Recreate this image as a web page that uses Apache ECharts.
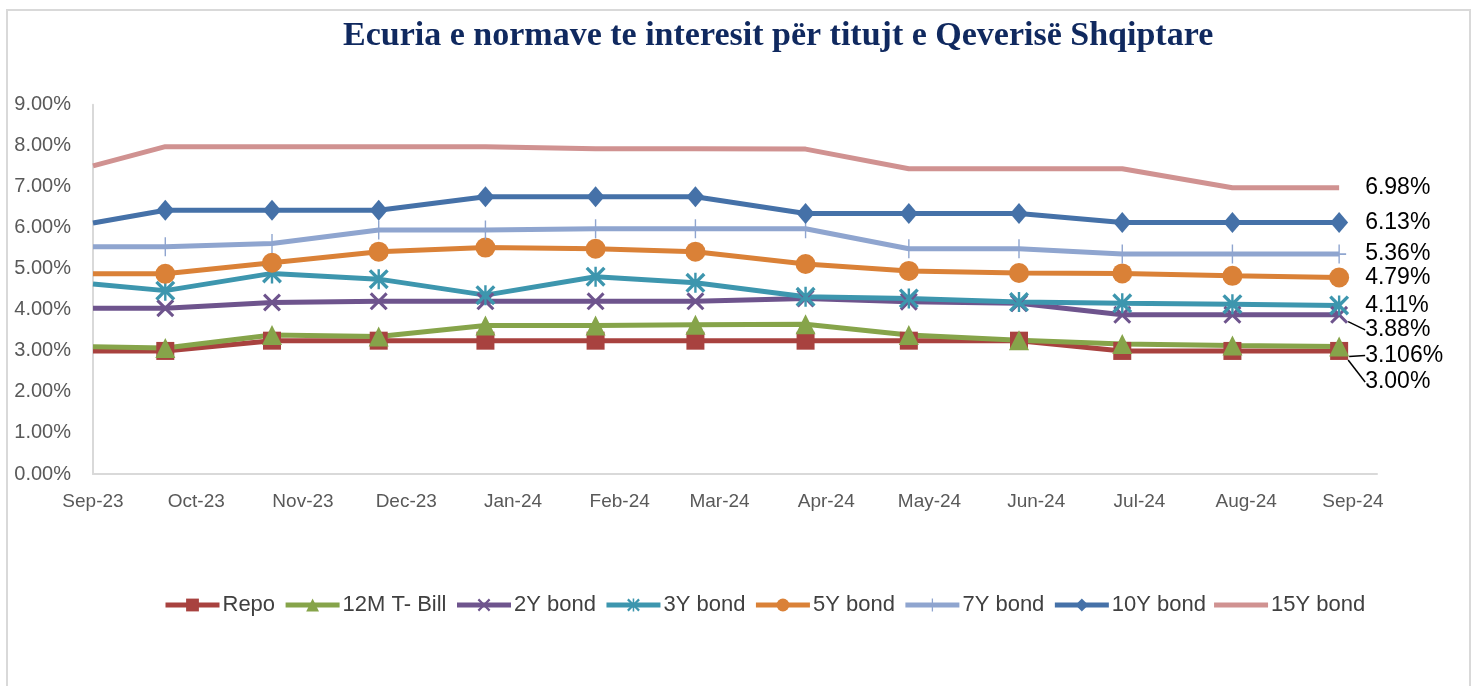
<!DOCTYPE html>
<html>
<head>
<meta charset="utf-8">
<script src="https://cdn.jsdelivr.net/npm/echarts@6/dist/echarts.min.js"></script>
<style>
html,body{margin:0;padding:0;background:#fff;}
#chart{width:1476px;height:686px;}
</style>
</head>
<body>
<div id="chart"></div>
<script>
// ---- Data ----
const titleText = 'Ecuria e normave te interesit për titujt e Qeverisë Shqiptare';
const dates = ['2023-09-01','2023-09-22','2023-10-23','2023-11-23','2023-12-24','2024-01-25','2024-02-23','2024-03-26','2024-04-25','2024-05-27','2024-06-26','2024-07-28','2024-08-28'];
const tickDates = ['2023-09-01','2023-10-01','2023-11-01','2023-12-01','2024-01-01','2024-02-01','2024-03-01','2024-04-01','2024-05-01','2024-06-01','2024-07-01','2024-08-01','2024-09-01'];
const tickLabels = ['Sep-23','Oct-23','Nov-23','Dec-23','Jan-24','Feb-24','Mar-24','Apr-24','May-24','Jun-24','Jul-24','Aug-24','Sep-24'];
const yTicks = [0,1,2,3,4,5,6,7,8,9];

const seriesNames = ['Repo','12M T- Bill','2Y bond','3Y bond','5Y bond','7Y bond','10Y bond','15Y bond'];
const repo   = [3.00, 3.00, 3.25, 3.25, 3.25, 3.25, 3.25, 3.25, 3.25, 3.25, 3.00, 3.00, 3.00];
const tbill  = [3.10, 3.07, 3.39, 3.35, 3.62, 3.62, 3.64, 3.65, 3.39, 3.26, 3.17, 3.13, 3.106];
const bond2  = [4.04, 4.04, 4.18, 4.21, 4.21, 4.21, 4.21, 4.28, 4.20, 4.16, 3.88, 3.88, 3.88];
const bond3  = [4.63, 4.47, 4.89, 4.75, 4.36, 4.81, 4.66, 4.32, 4.28, 4.19, 4.16, 4.14, 4.11];
const bond5  = [4.88, 4.88, 5.15, 5.42, 5.52, 5.49, 5.42, 5.12, 4.95, 4.90, 4.89, 4.83, 4.79];
const bond7  = [5.54, 5.54, 5.62, 5.95, 5.95, 5.98, 5.98, 5.98, 5.49, 5.49, 5.36, 5.36, 5.36];
const bond10 = [6.12, 6.43, 6.43, 6.43, 6.76, 6.76, 6.76, 6.35, 6.35, 6.35, 6.13, 6.13, 6.13];
const bond15 = [7.51, 7.98, 7.98, 7.98, 7.98, 7.93, 7.93, 7.92, 7.44, 7.44, 7.44, 6.98, 6.98];
const endLabels = ['3.00%','3.106%','3.88%','4.11%','4.79%','5.36%','6.13%','6.98%'];

// ---- Styles ----
const colors = ['#a8423f','#86a44a','#6e548d','#3d96ae','#da8137','#8fa5cf','#4571a8','#d09291'];
const xPath = 'path://M0,1.2L1.2,0L5,3.8L8.8,0L10,1.2L6.2,5L10,8.8L8.8,10L5,6.2L1.2,10L0,8.8L3.8,5Z';
const starPath = 'path://M0,1.2L1.2,0L5,3.8L8.8,0L10,1.2L6.2,5L10,8.8L8.8,10L5,6.2L1.2,10L0,8.8L3.8,5Z M4.4,0L5.6,0L5.6,10L4.4,10Z';
const plusPath = 'path://M4.5,0L5.5,0L5.5,4.6L10,4.6L10,5.4L5.5,5.4L5.5,10L4.5,10L4.5,5.4L0,5.4L0,4.6L4.5,4.6Z';
const symbols = ['rect','triangle',xPath,starPath,'circle',plusPath,'diamond','none'];
const symbolSizes = [18,20,18,20,20,[14,19],[18,21],0];
const labelDistance = [17,16,17,16,16,19,17,26];
const labelDy = [31,9,15,0,0,0,0,0];
const values = [repo,tbill,bond2,bond3,bond5,bond7,bond10,bond15];

const ts = d => Date.parse(d);
const tickTs = tickDates.map(ts);
const labelFont = {fontFamily: 'Liberation Sans, Arial, sans-serif', fontSize: 23, color: '#000'};

const chart = echarts.init(document.getElementById('chart'), null, {renderer:'canvas'});

const series = seriesNames.map((name, s) => {
  const vals = values[s];
  const n = vals.length;
  const hasSymbol = symbols[s] !== 'none';
  const ser = {
    name: name,
    type: 'line',
    symbol: symbols[s],
    symbolSize: symbolSizes[s],
    showAllSymbol: true,
    clip: false,
    animation: false,
    lineStyle: {width: 5, color: colors[s]},
    itemStyle: {color: colors[s]},
    labelLayout: {dy: labelDy[s]},
    labelLine: {show: labelDy[s] !== 0, lineStyle: {color: '#000', width: 1.5}, smooth: false},
    data: vals.map((v, i) => {
      const item = {value: [ts(dates[i]), v]};
      if (i === 0) item.symbol = 'none';
      if (i === n - 1 && hasSymbol) {
        item.label = Object.assign({
          show: true, position: 'right', distance: labelDistance[s],
          formatter: endLabels[s]
        }, labelFont);
      }
      return item;
    })
  };
  if (!hasSymbol) {
    ser.endLabel = Object.assign({show: true, distance: labelDistance[s], formatter: endLabels[s]}, labelFont);
  }
  return ser;
});

const legendData = seriesNames.map((name, s) =>
  symbols[s] === 'none' ? {name: name, icon: 'path://M0,0L54,0L54,5L0,5Z'} : {name: name});

const option = {
  animation: false,
  backgroundColor: '#fff',
  title: {
    text: titleText,
    left: 338,
    top: 14,
    textStyle: {fontFamily: 'Liberation Serif, serif', fontWeight: 'bold', fontSize: 34, color: '#10295f'}
  },
  legend: {
    left: 158,
    top: 589,
    itemWidth: 54,
    itemHeight: 16,
    itemGap: 8,
    data: legendData,
    lineStyle: {width: 5},
    textStyle: {fontFamily: 'Liberation Sans, Arial, sans-serif', fontSize: 22, color: '#404040', padding: [0,0,0,-2]}
  },
  grid: {left: 93, right: 99, top: 104.8, bottom: 212, containLabel: false},
  xAxis: {
    type: 'value',
    min: ts('2023-09-01'),
    max: ts('2024-09-08'),
    splitLine: {show: false},
    axisLine: {show: true, lineStyle: {color: '#d9d9d9', width: 2}},
    axisTick: {show: false},
    axisLabel: {
      customValues: tickTs,
      formatter: v => { const k = tickTs.indexOf(v); return k >= 0 ? tickLabels[k] : ''; },
      fontFamily: 'Liberation Sans, Arial, sans-serif', fontSize: 19, color: '#595959', margin: 18,
      showMinLabel: true, showMaxLabel: true, hideOverlap: false
    }
  },
  yAxis: {
    type: 'value',
    min: yTicks[0],
    max: yTicks[yTicks.length - 1],
    interval: 1,
    splitLine: {show: false},
    axisLine: {show: true, lineStyle: {color: '#d9d9d9', width: 2}},
    axisTick: {show: false},
    axisLabel: {
      formatter: v => v.toFixed(2) + '%',
      fontFamily: 'Liberation Sans, Arial, sans-serif', fontSize: 20, color: '#595959', margin: 22
    }
  },
  graphic: [{
    type: 'rect', silent: true, z: -10,
    shape: {x: 7, y: 10, width: 1463, height: 700},
    style: {fill: 'none', stroke: '#d9d9d9', lineWidth: 2}
  }],
  series: series
};
chart.setOption(option);
</script>
</body>
</html>
